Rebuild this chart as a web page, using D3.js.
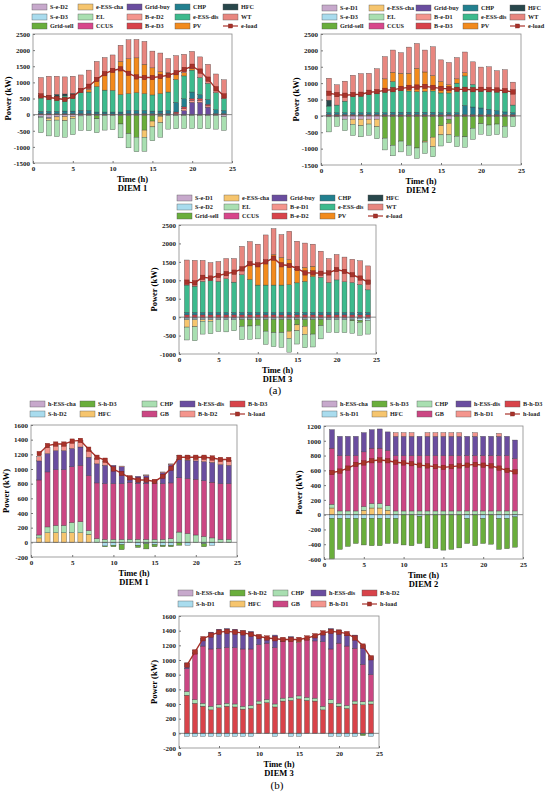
<!DOCTYPE html>
<html>
<head>
<meta charset="utf-8">
<script src="https://cdn.jsdelivr.net/npm/d3@7"></script>
<style>
  body { margin: 0; background: #fff; }
  text { font-family: "Liberation Serif", "DejaVu Serif", serif; }
</style>
</head>
<body>
<svg id="chart" width="550" height="794"></svg>
<script>
// ---- data ----
var HOURS = [1,2,3,4,5,6,7,8,9,10,11,12,13,14,15,16,17,18,19,20,21,22,23,24];
var XTICKS = [0,5,10,15,20,25];

// (a) DIEM 1 electricity
var e1SeD2     = [-60,-100,-70,-60,-60,-40,-30,-30,-30,-30,-30,-30,-30,-30,-30,-30,-30,-30,-30,-30,-30,-30,-30,-60];
var e1SeD3     = [-20,-20,0,0,0,0,0,0,0,0,0,0,0,0,0,0,0,0,0,0,0,0,0,0];
var e1GridSell = [0,0,0,0,0,0,0,-100,0,0,-260,-560,-670,-450,-170,-20,0,0,0,0,0,0,0,0];
var e1EssCha   = [0,-60,-100,-130,-60,0,0,0,0,0,0,0,0,-220,-180,-200,0,0,0,0,0,0,0,0];
var e1EL       = [-480,-480,-510,-510,-500,-450,-470,-430,-450,-440,-430,-440,-450,-440,-430,-450,-420,-410,-400,-400,-410,-410,-420,-430];
var e1CCUS     = [0,0,0,0,0,0,0,0,0,0,0,0,0,0,0,0,0,0,0,0,0,0,0,0];
var e1GridBuy  = [0,0,0,0,0,0,0,0,0,0,0,0,0,0,0,0,0,0,120,380,380,230,0,0];
var e1BeD2     = [0,0,0,0,0,0,0,0,0,0,0,0,0,0,0,0,0,30,60,60,60,40,0,0];
var e1BeD3     = [30,30,30,30,30,30,30,20,20,20,20,30,30,30,30,30,30,50,60,60,60,50,30,30];
var e1CHP      = [70,70,70,80,80,100,100,60,60,60,60,100,100,100,80,80,100,300,250,200,120,150,120,100];
var e1EssDis   = [450,430,470,470,490,560,570,790,680,670,540,520,550,520,500,540,570,710,710,680,530,500,530,370];
var e1PV       = [0,0,0,0,0,0,80,200,500,630,1030,1080,1080,910,840,680,600,150,100,40,0,0,0,0];
var e1HFC      = [50,60,60,60,60,0,0,0,0,0,0,0,0,0,0,0,0,0,0,0,0,0,0,0];
var e1WT       = [550,600,560,530,530,540,600,580,510,470,500,590,570,710,520,580,440,590,570,540,640,590,580,580];
var e1Load     = [580,530,500,470,560,750,880,1090,1270,1370,1420,1280,1170,1150,1150,1180,1220,1300,1400,1500,1350,1100,800,580];

// (a) DIEM 2 electricity
var e2SeD1     = [-30,-30,-100,-100,-100,-100,-100,-20,-20,-20,-20,-20,-20,-20,-20,-100,-20,-20,-20,-20,-20,-20,-20,-30];
var e2SeD3     = [0,0,0,0,0,0,0,0,0,0,0,0,0,0,0,0,0,0,0,0,0,0,0,0];
var e2GridSell = [0,0,0,0,0,0,0,-660,-880,-750,-880,-960,-750,-630,-280,-130,-600,-620,-360,-220,-260,-230,-300,0];
var e2EssCha   = [0,0,0,-160,-200,-150,-230,0,0,0,0,0,-30,-290,-280,-350,0,0,0,0,0,0,0,0];
var e2EL       = [-460,-290,-350,-340,-340,-340,-370,-360,-320,-330,-300,-320,-350,-310,-340,-240,-320,-320,-340,-320,-320,-320,-330,-300];
var e2CCUS     = [0,0,0,0,0,0,0,0,0,0,0,0,0,0,0,0,0,0,0,0,0,0,0,0];
var e2GridBuy  = [0,0,0,0,0,0,0,0,0,0,0,0,0,0,0,0,0,0,0,0,0,0,0,0];
var e2BeD1     = [0,0,0,0,0,0,0,0,0,0,0,0,0,0,0,0,0,0,0,0,0,0,0,0];
var e2BeD3     = [40,40,40,40,40,40,40,40,40,40,40,40,40,40,40,40,40,40,40,40,40,40,40,40];
var e2CHP      = [60,60,60,60,60,60,60,60,70,70,70,70,70,70,60,60,60,280,230,200,160,120,80,60];
var e2EssDis   = [200,230,350,520,540,560,600,660,940,660,650,630,640,650,600,600,900,900,690,520,550,580,620,230];
var e2PV       = [0,0,0,0,0,0,0,370,280,530,540,710,590,470,350,250,130,100,0,0,0,0,0,0];
var e2HFC      = [180,0,0,0,0,0,0,0,0,0,0,0,0,0,0,0,0,0,0,0,0,0,0,0];
var e2WT       = [670,620,610,620,650,640,740,680,680,630,800,760,670,880,660,680,650,630,690,730,750,640,670,700];
var e2Load     = [690,650,630,650,660,720,740,780,800,840,870,880,900,870,840,830,810,810,800,810,800,790,770,730];

// (a) DIEM 3 electricity
var e3SeD1     = [-30,-30,-30,-30,-30,-30,-30,-30,-30,-30,-30,-30,-30,-30,-30,-30,-30,-30,-30,-30,-30,-30,-30,-30];
var e3SeD2     = [-40,-40,-40,-40,-40,-40,-40,-30,-30,-30,-30,-30,-30,-30,-30,-30,-30,-30,-40,-40,-40,-40,-60,-60];
var e3GridSell = [0,0,0,0,0,0,0,-190,-180,-160,-320,-360,-360,-320,-150,-190,-400,-170,0,0,0,-30,-50,0];
var e3EssCha   = [-200,-190,-40,-40,0,0,0,0,0,0,0,0,0,-200,-160,-220,0,0,0,0,0,0,0,0];
var e3EL       = [-350,-380,-350,-340,-320,-330,-300,-360,-360,-370,-360,-380,-400,-370,-360,-360,-350,-360,-340,-350,-350,-340,-350,-370];
var e3CCUS     = [0,0,0,0,0,0,0,0,0,0,0,0,0,0,0,0,0,0,0,0,0,0,0,0];
var e3GridBuy  = [0,0,0,0,0,0,0,0,0,0,0,0,0,0,0,0,0,0,0,0,0,0,0,0];
var e3BeD1     = [0,0,0,0,0,0,0,0,0,0,0,0,0,0,0,0,0,0,0,0,0,0,0,0];
var e3BeD2     = [60,60,60,60,60,60,60,60,60,60,60,60,60,60,60,60,60,60,60,60,60,60,60,60];
var e3CHP      = [70,70,70,70,70,70,70,70,70,70,70,70,70,70,70,70,70,70,70,70,70,70,70,70];
var e3EssDis   = [740,710,840,860,840,910,820,1020,890,740,740,740,740,750,800,840,970,950,810,880,830,810,750,610];
var e3PV       = [0,0,0,0,0,0,0,0,400,540,630,830,750,680,370,380,280,0,0,0,0,0,0,0];
var e3HFC      = [0,0,0,0,0,0,0,0,0,0,0,0,0,0,0,0,0,0,0,0,0,0,0,0];
var e3WT       = [680,700,570,490,540,550,640,770,630,570,730,700,620,770,760,660,600,710,650,690,670,630,650,650];
var e3Load     = [950,930,1080,1060,1130,1180,1220,1310,1450,1420,1500,1600,1420,1400,1320,1200,1200,1190,1200,1290,1240,1150,1060,950];

// (b) DIEM 1 heat
var h1EssCha = [0,0,0,0,0,0,0,0,0,0,0,0,0,0,0,0,0,0,0,0,0,0,0,0];
var h1ShD2   = [0,0,0,0,0,0,0,0,-50,-40,-30,0,-40,-20,-30,-40,-40,0,-40,0,-20,-40,0,0];
var h1ShD3   = [0,0,0,0,0,0,0,0,-10,-20,-70,0,-30,-70,-30,-20,-20,-40,0,0,-40,0,0,0];
var h1HFC    = [60,130,130,130,130,130,110,0,0,0,0,0,0,0,0,0,0,0,0,0,0,0,0,0];
var h1CHP    = [40,80,100,100,140,150,50,50,40,40,40,40,40,40,40,40,50,140,120,100,80,60,40,40];
var h1GB     = [750,750,760,760,760,770,750,760,760,760,760,780,760,760,760,760,760,740,750,760,760,760,760,760];
var h1EssDis = [260,250,260,260,250,250,250,260,250,250,230,60,100,110,50,150,250,250,250,250,260,270,260,250];
var h1BhD2   = [60,80,70,80,80,90,90,70,60,0,10,20,0,10,0,10,10,50,60,60,70,70,60,70];
var h1BhD3   = [0,0,0,0,0,0,0,0,0,0,0,0,0,0,0,0,0,0,0,0,0,0,0,0];
var h1Load   = [1210,1320,1340,1340,1380,1390,1270,1160,1120,1000,940,880,850,850,830,900,1010,1160,1160,1160,1160,1150,1130,1130];

// (b) DIEM 2 heat
var h2EssCha = [0,0,0,0,0,0,0,0,0,0,0,0,0,0,0,0,0,0,0,0,0,0,0,0];
var h2ShD1   = [-50,-50,-50,-50,-50,-50,-50,-50,-50,0,0,-20,0,0,0,0,0,-50,0,-50,0,-50,-50,-30];
var h2ShD3   = [-550,-420,-380,-340,-360,-370,-370,-340,-340,-410,-420,-370,-450,-460,-480,-470,-450,-340,-420,-340,-400,-420,-410,-410];
var h2HFC    = [90,0,0,0,60,90,90,60,0,0,0,0,0,0,0,0,0,0,0,0,0,0,0,0];
var h2CHP    = [50,50,50,50,50,60,60,60,50,50,50,50,50,50,50,50,50,50,50,50,50,50,50,50];
var h2GB     = [760,750,750,750,740,750,750,750,750,750,750,750,750,750,750,750,750,750,750,750,750,750,750,710];
var h2EssDis = [250,260,260,260,260,250,260,250,260,260,260,260,260,260,260,260,260,260,260,260,260,260,260,250];
var h2BhD1   = [0,0,0,0,0,0,0,0,50,50,50,0,50,50,50,50,50,0,50,0,0,40,0,0];
var h2BhD3   = [0,0,0,0,0,0,0,0,0,0,0,0,0,0,0,0,0,0,0,0,0,0,0,0];
var h2Load   = [570,590,630,680,700,730,740,730,710,700,690,670,660,650,640,650,660,670,680,670,660,630,600,580];

// (b) DIEM 3 heat
var h3EssCha = [0,0,0,0,0,0,0,0,0,0,0,0,0,0,0,0,0,0,0,0,0,0,0,0];
var h3ShD1   = [-40,-40,-40,-40,-40,-40,-40,-40,-40,0,0,-40,0,-40,-40,0,0,0,-40,-40,-40,-40,-10,-40];
var h3ShD2   = [0,0,0,0,0,0,0,0,0,0,0,0,0,0,0,0,0,0,0,0,0,0,-20,0];
var h3HFC    = [0,0,0,0,0,0,0,0,0,0,0,0,0,0,0,0,0,0,0,0,0,0,0,0];
var h3CHP    = [50,50,40,50,40,40,40,40,40,40,40,40,40,40,40,40,40,50,50,40,40,40,40,40];
var h3GB     = [310,630,780,780,770,760,770,780,770,770,770,770,770,770,730,790,780,880,690,820,810,720,510,360];
var h3EssDis = [80,10,100,230,260,260,250,250,240,120,80,170,10,60,0,10,70,110,280,180,180,180,260,250];
var h3BhD1   = [0,30,0,0,0,0,0,0,0,0,0,0,30,0,40,0,0,0,0,0,0,0,0,0];
var h3BhD2   = [520,410,370,320,350,370,360,330,340,400,420,360,440,450,470,450,440,320,410,370,340,400,390,400];
var h3Load   = [930,1110,1290,1340,1380,1390,1380,1370,1350,1320,1300,1290,1280,1280,1280,1300,1330,1370,1390,1380,1360,1300,1190,1030];

// ---- colours ----
var C = {
    mauve: "#c7a9cc", lblue: "#a9dcee", green: "#6aae3c", yellow: "#f6c56e",
    lgreen: "#a9dfb1", pink: "#d8468b", purple: "#6a4d9f", salmon: "#f4958d",
    red: "#d8434a", teal: "#22808f", seagreen: "#3dba8d", orange: "#f28a1d",
    dark: "#28474b", wt: "#e8867f", gb: "#cb4683", load: "#a8322a"
};

// ---- panels ----
var panels = [
    {
        title: "DIEM 1", x0: 33, x1: 232, y0: 34, y1: 163, yDomain: [-1500, 2500], yStep: 500,
        legendX: [32, 78, 127, 175, 223], legendY: [7, 17, 26], rows: 3,
        series: [
            {name: "S-e-D2", color: C.mauve, data: e1SeD2},
            {name: "S-e-D3", color: C.lblue, data: e1SeD3},
            {name: "Grid-sell", color: C.green, data: e1GridSell},
            {name: "e-ESS-cha", color: C.yellow, data: e1EssCha},
            {name: "EL", color: C.lgreen, data: e1EL},
            {name: "CCUS", color: C.pink, data: e1CCUS},
            {name: "Grid-buy", color: C.purple, data: e1GridBuy},
            {name: "B-e-D2", color: C.salmon, data: e1BeD2},
            {name: "B-e-D3", color: C.red, data: e1BeD3},
            {name: "CHP", color: C.teal, data: e1CHP},
            {name: "e-ESS-dis", color: C.seagreen, data: e1EssDis},
            {name: "PV", color: C.orange, data: e1PV},
            {name: "HFC", color: C.dark, data: e1HFC},
            {name: "WT", color: C.wt, data: e1WT}
        ],
        load: {name: "e-load", data: e1Load}
    },
    {
        title: "DIEM 2", x0: 321, x1: 521, y0: 34, y1: 165, yDomain: [-1500, 2500], yStep: 500,
        legendX: [322, 369, 416, 463, 510], legendY: [8, 17, 26], rows: 3,
        series: [
            {name: "S-e-D1", color: C.mauve, data: e2SeD1},
            {name: "S-e-D3", color: C.lblue, data: e2SeD3},
            {name: "Grid-sell", color: C.green, data: e2GridSell},
            {name: "e-ESS-cha", color: C.yellow, data: e2EssCha},
            {name: "EL", color: C.lgreen, data: e2EL},
            {name: "CCUS", color: C.pink, data: e2CCUS},
            {name: "Grid-buy", color: C.purple, data: e2GridBuy},
            {name: "B-e-D1", color: C.salmon, data: e2BeD1},
            {name: "B-e-D3", color: C.red, data: e2BeD3},
            {name: "CHP", color: C.teal, data: e2CHP},
            {name: "e-ESS-dis", color: C.seagreen, data: e2EssDis},
            {name: "PV", color: C.orange, data: e2PV},
            {name: "HFC", color: C.dark, data: e2HFC},
            {name: "WT", color: C.wt, data: e2WT}
        ],
        load: {name: "e-load", data: e2Load}
    },
    {
        title: "DIEM 3", x0: 179, x1: 376, y0: 225, y1: 354, yDomain: [-1000, 2500], yStep: 500,
        legendX: [177, 224, 272, 320, 368], legendY: [198, 207, 216], rows: 3,
        series: [
            {name: "S-e-D1", color: C.mauve, data: e3SeD1},
            {name: "S-e-D2", color: C.lblue, data: e3SeD2},
            {name: "Grid-sell", color: C.green, data: e3GridSell},
            {name: "e-ESS-cha", color: C.yellow, data: e3EssCha},
            {name: "EL", color: C.lgreen, data: e3EL},
            {name: "CCUS", color: C.pink, data: e3CCUS},
            {name: "Grid-buy", color: C.purple, data: e3GridBuy},
            {name: "B-e-D1", color: C.salmon, data: e3BeD1},
            {name: "B-e-D2", color: C.red, data: e3BeD2},
            {name: "CHP", color: C.teal, data: e3CHP},
            {name: "e-ESS-dis", color: C.seagreen, data: e3EssDis},
            {name: "PV", color: C.orange, data: e3PV},
            {name: "HFC", color: C.dark, data: e3HFC},
            {name: "WT", color: C.wt, data: e3WT}
        ],
        load: {name: "e-load", data: e3Load}
    },
    {
        title: "DIEM 1", x0: 31, x1: 237, y0: 425, y1: 557, yDomain: [-200, 1600], yStep: 200,
        legendX: [30, 80, 142, 180, 230], legendY: [404, 414], rows: 2,
        series: [
            {name: "h-ESS-cha", color: C.mauve, data: h1EssCha},
            {name: "S-h-D2", color: C.lblue, data: h1ShD2},
            {name: "S-h-D3", color: C.green, data: h1ShD3},
            {name: "HFC", color: C.yellow, data: h1HFC},
            {name: "CHP", color: C.lgreen, data: h1CHP},
            {name: "GB", color: C.gb, data: h1GB},
            {name: "h-ESS-dis", color: C.purple, data: h1EssDis},
            {name: "B-h-D2", color: C.salmon, data: h1BhD2},
            {name: "B-h-D3", color: C.red, data: h1BhD3}
        ],
        load: {name: "h-load", data: h1Load}
    },
    {
        title: "DIEM 2", x0: 324, x1: 523, y0: 426, y1: 559, yDomain: [-600, 1200], yStep: 200,
        legendX: [322, 372, 417, 456, 505], legendY: [404, 414], rows: 2,
        series: [
            {name: "h-ESS-cha", color: C.mauve, data: h2EssCha},
            {name: "S-h-D1", color: C.lblue, data: h2ShD1},
            {name: "S-h-D3", color: C.green, data: h2ShD3},
            {name: "HFC", color: C.yellow, data: h2HFC},
            {name: "CHP", color: C.lgreen, data: h2CHP},
            {name: "GB", color: C.gb, data: h2GB},
            {name: "h-ESS-dis", color: C.purple, data: h2EssDis},
            {name: "B-h-D1", color: C.salmon, data: h2BhD1},
            {name: "B-h-D3", color: C.red, data: h2BhD3}
        ],
        load: {name: "h-load", data: h2Load}
    },
    {
        title: "DIEM 3", x0: 179, x1: 379, y0: 616, y1: 748, yDomain: [-200, 1600], yStep: 200,
        legendX: [178, 230, 273, 311, 362], legendY: [593, 604], rows: 2,
        series: [
            {name: "h-ESS-cha", color: C.mauve, data: h3EssCha},
            {name: "S-h-D1", color: C.lblue, data: h3ShD1},
            {name: "S-h-D2", color: C.green, data: h3ShD2},
            {name: "HFC", color: C.yellow, data: h3HFC},
            {name: "CHP", color: C.lgreen, data: h3CHP},
            {name: "GB", color: C.gb, data: h3GB},
            {name: "h-ESS-dis", color: C.purple, data: h3EssDis},
            {name: "B-h-D1", color: C.salmon, data: h3BhD1},
            {name: "B-h-D2", color: C.red, data: h3BhD2}
        ],
        // in this case the bought heat sits at the bottom of the bars
        stackOrder: ["B-h-D2", "h-ESS-cha", "S-h-D1", "S-h-D2", "HFC", "CHP", "GB", "h-ESS-dis", "B-h-D1"],
        load: {name: "h-load", data: h3Load}
    }
];

var svg = d3.select("#chart");

panels.forEach(drawPanel);

svg.append("text").attr("x", 275).attr("y", 394).attr("text-anchor", "middle")
    .attr("font-size", 11).text("(a)");
svg.append("text").attr("x", 277).attr("y", 789).attr("text-anchor", "middle")
    .attr("font-size", 11).text("(b)");

function drawPanel(p) {
    var g = svg.append("g");
    var x = d3.scaleLinear().domain([0, 25]).range([p.x0, p.x1]);
    var y = d3.scaleLinear().domain(p.yDomain).range([p.y1, p.y0]);
    var bw = (x(1) - x(0)) * 0.62;

    var byName = {};
    p.series.forEach(function(s) { byName[s.name] = s; });
    var order = p.stackOrder || p.series.map(function(s) { return s.name; });

    // stacked bars, positives up from 0 and negatives down from 0
    var bars = [];
    HOURS.forEach(function(h, i) {
        var up = 0, down = 0;
        order.forEach(function(name) {
            var s = byName[name];
            var v = s.data[i];
            if (!v) return;
            var a, b;
            if (v > 0) { a = up; up += v; b = up; }
            else { a = down; down += v; b = down; }
            bars.push({h: h, lo: Math.min(a, b), hi: Math.max(a, b), color: s.color});
        });
    });

    g.selectAll("rect.bar").data(bars).enter().append("rect")
        .attr("class", "bar")
        .attr("x", function(d) { return x(d.h) - bw / 2; })
        .attr("y", function(d) { return y(d.hi); })
        .attr("width", bw)
        .attr("height", function(d) { return y(d.lo) - y(d.hi); })
        .attr("fill", function(d) { return d.color; })
        .attr("stroke", "#3a3a3a")
        .attr("stroke-width", 0.35);

    // zero line
    g.append("line")
        .attr("x1", p.x0).attr("x2", p.x1)
        .attr("y1", y(0)).attr("y2", y(0))
        .attr("stroke", "#555").attr("stroke-width", 0.7);

    // load line with square markers
    var line = d3.line()
        .x(function(d, i) { return x(HOURS[i]); })
        .y(function(d) { return y(d); });
    g.append("path").datum(p.load.data)
        .attr("d", line)
        .attr("fill", "none")
        .attr("stroke", C.load)
        .attr("stroke-width", 1.4);
    g.selectAll("rect.mk").data(p.load.data).enter().append("rect")
        .attr("class", "mk")
        .attr("x", function(d, i) { return x(HOURS[i]) - 2.2; })
        .attr("y", function(d) { return y(d) - 2.2; })
        .attr("width", 4.4).attr("height", 4.4)
        .attr("fill", C.load)
        .attr("stroke", "#7a1d17").attr("stroke-width", 0.4);

    // frame
    g.append("rect")
        .attr("x", p.x0).attr("y", p.y0)
        .attr("width", p.x1 - p.x0).attr("height", p.y1 - p.y0)
        .attr("fill", "none").attr("stroke", "#8a8a8a").attr("stroke-width", 0.8);

    // axes
    var yTicks = d3.range(p.yDomain[0], p.yDomain[1] + 1, p.yStep);
    var yAxis = g.append("g")
        .attr("transform", "translate(" + p.x0 + ",0)")
        .call(d3.axisLeft(y).tickValues(yTicks).tickSizeInner(-2).tickSizeOuter(0).tickPadding(3)
            .tickFormat(function(d) { return String(d); }));
    var xAxis = g.append("g")
        .attr("transform", "translate(0," + p.y1 + ")")
        .call(d3.axisBottom(x).tickValues(XTICKS).tickSizeInner(-2).tickSizeOuter(0).tickPadding(3)
            .tickFormat(function(d) { return String(d); }));
    [yAxis, xAxis].forEach(function(ax) {
        ax.select(".domain").remove();
        ax.selectAll(".tick line").attr("stroke", "#777");
        ax.selectAll("text").attr("font-size", 7).attr("font-weight", "bold")
            .attr("fill", "#222").attr("font-family", "Liberation Serif, serif");
    });

    var cx = (p.x0 + p.x1) / 2;
    g.append("text").attr("x", cx).attr("y", p.y1 + 19)
        .attr("text-anchor", "middle").attr("font-size", 8.5).attr("font-weight", "bold")
        .text("Time (h)");
    g.append("text").attr("x", cx).attr("y", p.y1 + 28)
        .attr("text-anchor", "middle").attr("font-size", 8.5).attr("font-weight", "bold")
        .text(p.title);
    g.append("text")
        .attr("transform", "translate(" + (p.x0 - 22) + "," + ((p.y0 + p.y1) / 2) + ") rotate(-90)")
        .attr("text-anchor", "middle").attr("font-size", 8.5).attr("font-weight", "bold")
        .text("Power (kW)");

    // legend, filled column by column
    var items = p.series.map(function(s) { return {name: s.name, color: s.color}; });
    items.push({name: p.load.name, isLine: true});
    var lg = g.append("g");
    items.forEach(function(it, k) {
        var col = Math.floor(k / p.rows), row = k % p.rows;
        var lx = p.legendX[col], ly = p.legendY[row];
        var item = lg.append("g").attr("transform", "translate(" + lx + "," + ly + ")");
        if (it.isLine) {
            item.append("line").attr("x1", 0).attr("x2", 15).attr("y1", 0).attr("y2", 0)
                .attr("stroke", C.load).attr("stroke-width", 1.2);
            item.append("rect").attr("x", 5.5).attr("y", -2).attr("width", 4).attr("height", 4)
                .attr("fill", C.load).attr("stroke", "#7a1d17").attr("stroke-width", 0.4);
        } else {
            item.append("rect").attr("x", 0).attr("y", -3).attr("width", 15).attr("height", 6)
                .attr("fill", it.color).attr("stroke", "#555").attr("stroke-width", 0.4);
        }
        item.append("text").attr("x", 18).attr("y", 0).attr("dy", "0.35em")
            .attr("font-size", 6.2).attr("font-weight", "bold").attr("fill", "#222")
            .text(it.name);
    });
}
</script>
</body>
</html>
